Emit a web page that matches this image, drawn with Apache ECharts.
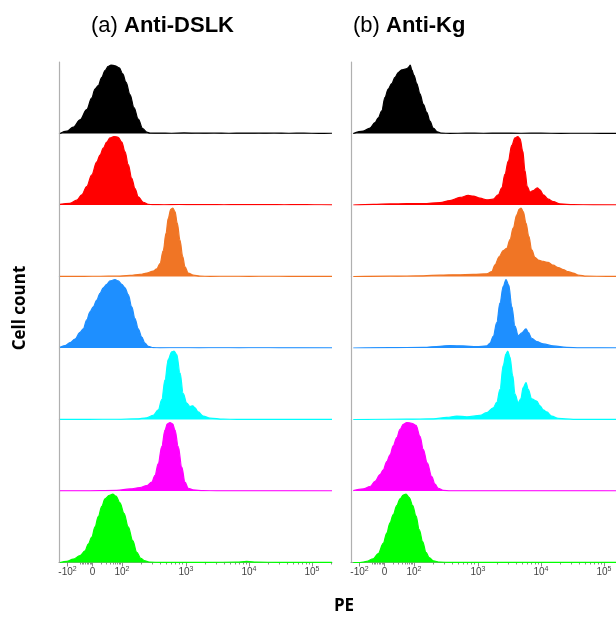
<!DOCTYPE html>
<html><head><meta charset="utf-8">
<script src="https://cdn.jsdelivr.net/npm/echarts@6/dist/echarts.min.js"></script>
<style>html,body{margin:0;padding:0;background:#fff}#c{width:616px;height:617px}</style>
</head><body><div id="c"></div>
<script>
// ---- texts ----
const panelTitles = [['(a) ', 'Anti-DSLK'], ['(b) ', 'Anti-Kg']];
const yAxisTitle = 'Cell count';
const xAxisTitle = 'PE';
// ---- colours per sample row (top to bottom) ----
const sampleColors = ['#000000', '#ff0000', '#f07525', '#1e8fff', '#00ffff', '#ff00ff', '#00ff00'];
// ---- x axis: display channel (biexponential), tick labels ----
const channelMin = 0, channelMax = 1092;
const tickChannels = [34, 134, 252, 508, 760, 1012];
const tickLabels = ['{m|-10}{s|2}', '{m|0}', '{m|10}{s|2}', '{m|10}{s|3}', '{m|10}{s|4}', '{m|10}{s|5}'];

// ---- histograms: [channel, relative count] ----
// Panel (a) Anti-DSLK
const aBlack = [[4,0],[31,3.4],[57,9.3],[84,20],[111,35],[131,52],[144,65],[157,70],[171,82],[184,92],[197,98],[208,100],[224,99],[241,96],[255,87],[268,75],[284,57],[300,38],[317,21],[335,7],[351,2],[364,0.5],[400,0.6],[450,0.4],[500,0.8],[560,0.5],[620,0.7],[680,0.4],[740,0.6],[800,0.5],[860,0.7],[920,0.4],[980,0.5],[1040,0.3],[1092,0.4]];
const aRed = [[4,1],[44,2.4],[71,7],[91,15],[111,27],[131,44],[151,63],[164,73],[177,83],[191,92],[204,98],[220,100],[237,99],[251,92],[264,78],[277,59],[291,39],[304,24],[317,12],[337,4],[357,1],[377,0.5],[420,0.4],[480,0.7],[540,0.5],[600,0.6],[660,0.4],[720,0.6],[780,0.5],[840,0.6],[900,0.4],[960,0.5],[1020,0.4],[1092,0.3]];
const aOrange = [[4,0.3],[100,0.3],[164,0.4],[231,0.5],[284,1.5],[324,3],[351,5],[377,8],[391,11],[404,19],[417,38],[428,63],[437,85],[447,98],[455,100],[464,95],[473,78],[484,53],[495,29],[504,14],[517,5],[537,2],[564,0.5],[604,0.3],[680,0.4],[760,0.3],[840,0.4],[920,0.3],[1000,0.3],[1092,0.3]];
const aBlue = [[4,1],[24,3.5],[44,8],[64,13],[84,23],[97,28],[111,41],[124,53],[137,60],[151,70],[164,80],[177,88],[191,93],[204,98],[224,100],[237,98],[251,93],[264,88],[277,78],[291,60],[304,43],[317,28],[331,16],[344,7],[357,2.5],[377,0.5],[404,0.3],[480,0.4],[560,0.3],[640,0.4],[720,0.3],[800,0.4],[880,0.3],[960,0.3],[1092,0.3]];
const aCyan = [[4,0.3],[120,0.3],[231,0.4],[311,1],[351,2.5],[377,6],[397,14],[411,29],[424,58],[437,88],[451,99],[460,100],[471,95],[484,68],[497,38],[511,24],[524,19],[535,20],[544,17],[557,11],[577,5],[604,2],[657,0.5],[711,0.3],[800,0.3],[900,0.3],[1000,0.3],[1092,0.3]];
const aMagenta = [[4,0.3],[97,0.3],[231,1],[284,3],[324,5],[351,8],[371,13],[384,23],[397,40],[411,65],[424,89],[433,98],[444,100],[455,98],[464,89],[477,65],[491,35],[504,13],[517,4],[537,1.5],[577,0.5],[631,0.3],[720,0.3],[820,0.3],[920,0.3],[1092,0.3]];
const aGreen = [[4,0],[31,1.5],[57,5],[84,10],[104,17],[117,27],[131,37],[144,52],[157,67],[171,82],[184,93],[201,98],[215,100],[228,97],[244,87],[260,72],[277,52],[295,32],[311,15],[327,6],[344,2.5],[364,0.5],[404,0.2],[500,0.3],[600,0.3],[711,0.5],[751,1.5],[791,0.5],[880,0.3],[980,0.3],[1092,0.2]];
// Panel (b) Anti-Kg
const bBlack = [[9,0],[49,3.5],[76,8],[96,16],[109,23],[123,33],[136,53],[149,65],[163,73],[176,82],[189,89],[203,93],[216,94],[225,95],[232,97.5],[237,100],[243,93],[252,85],[263,73],[276,58],[289,43],[303,31],[316,18],[329,8],[345,2.5],[363,0.5],[396,0.3],[460,0.5],[530,0.4],[600,0.6],[680,0.4],[760,0.5],[840,0.3],[920,0.4],[1000,0.3],[1092,0.3]];
const bRed = [[9,0],[89,1],[156,1.5],[223,2],[289,2],[356,3.5],[396,6.5],[436,11],[469,14],[489,13],[516,10],[543,7.5],[569,8.5],[589,15],[603,25],[616,45],[629,64],[643,87],[656,98],[667,100],[676,97],[687,79],[696,50],[705,27],[716,19],[729,21],[745,25],[756,22],[769,15],[789,8.5],[809,5],[836,1.5],[889,0.5],[969,0.3],[1092,0.3]];
const bOrange = [[9,0],[156,0.5],[289,1],[356,2],[423,2.5],[489,3],[543,4],[563,7],[576,17],[593,29],[609,38],[623,41],[636,54],[649,71],[663,90],[673,98.5],[680,100],[689,95],[700,78],[711,59],[723,39],[736,28],[749,24],[769,22],[789,20.5],[809,16.5],[829,13],[849,10],[869,7],[889,5],[909,2],[943,0.5],[1023,0.3],[1092,0.3]];
const bBlue = [[9,0],[156,0.5],[289,1],[356,2.5],[396,3.5],[449,3],[503,2],[543,3],[556,7],[569,17],[583,37],[596,66],[609,90],[620,100],[631,92],[643,61],[656,32],[669,18],[683,22],[700,28],[709,23],[723,14],[743,9.5],[769,6],[809,3],[863,1],[916,0.3],[1000,0.3],[1092,0.3]];
const bCyan = [[9,0],[223,0.5],[329,1],[383,3],[423,5],[463,4],[516,6],[543,10],[569,17],[583,25],[596,44],[609,79],[620,96],[627,100],[636,91],[647,64],[656,37],[669,25],[679,30],[689,47],[700,54],[709,44],[723,30],[743,27],[756,20],[769,14],[783,11],[803,5],[829,1.5],[889,0.3],[1000,0.3],[1092,0.3]];
const bMagenta = [[9,0.5],[49,3],[76,6.5],[96,14],[116,24],[129,31],[143,43],[156,53],[169,66],[183,78],[196,90],[209,97.5],[223,100],[243,99],[260,96],[276,80],[289,61],[305,41],[323,21],[336,10],[349,4],[369,1],[396,0.3],[500,0.3],[620,0.3],[740,0.3],[860,0.3],[980,0.3],[1092,0.3]];
const bGreen = [[9,0],[36,0],[63,1.5],[89,5.5],[109,13],[129,28],[143,43],[156,58],[169,70],[183,83],[196,93],[209,98.5],[220,100],[233,95],[247,83],[260,68],[273,48],[287,30],[300,15],[313,7],[329,2.5],[356,0.5],[396,0.2],[500,0.3],[620,0.3],[740,0.3],[860,0.3],[980,0.3],[1092,0.2]];

const panelsData = [
  [aBlack, aRed, aOrange, aBlue, aCyan, aMagenta, aGreen],
  [bBlack, bRed, bOrange, bBlue, bCyan, bMagenta, bGreen]
];

// ---- layout ----
const panelLeft = [59, 351];
const panelWidth = 273;
const rowTop0 = 62;
const rowH = 71.5;
const yMax = 104.5;

// minor tick marks in channel units
const decadeCh = 252;
const minorTicks = [];
[84, 91, 98, 105, 112, 118, 124, 129].forEach(c => minorTicks.push(c));
[2,3,4,5,6,7,8,9].forEach(k => minorTicks.push(134 + 118 * Math.log10(k)));
[252, 508, 760].forEach(base => { [2,3,4,5,6,7,8,9].forEach(k => minorTicks.push(base + decadeCh * Math.log10(k))); });
minorTicks.push(1012 + decadeCh * Math.log10(2), 1012 + decadeCh * Math.log10(3));

const grid = [], xAxis = [], yAxis = [], series = [];
panelsData.forEach((rows, p) => {
  rows.forEach((data, r) => {
    const gi = grid.length;
    const xi = xAxis.length;
    const bottom = r === rows.length - 1;
    grid.push({ left: panelLeft[p], width: panelWidth, top: rowTop0 + rowH * r, height: rowH, outerBoundsMode: 'none' });
    xAxis.push({
      type: 'value', gridIndex: gi, min: channelMin, max: channelMax,
      axisLine: { show: bottom, lineStyle: { color: '#9a9a9a', width: 1 } },
      axisTick: bottom ? { show: true, customValues: tickChannels, length: 4, lineStyle: { color: '#8a8a8a' } } : { show: false },
      axisLabel: bottom ? {
        show: true, customValues: tickChannels, margin: 3,
        fontSize: 10, color: '#444', fontFamily: 'Liberation Sans',
        formatter: v => { const i = tickChannels.indexOf(v); return i >= 0 ? tickLabels[i] : ''; },
        rich: {
          m: { fontSize: 10, lineHeight: 14, color: '#444', fontFamily: 'Liberation Sans' },
          s: { fontSize: 7, lineHeight: 9, color: '#444', verticalAlign: 'top', fontFamily: 'Liberation Sans' }
        }
      } : { show: false },
      splitLine: { show: false }
    });
    yAxis.push({
      type: 'value', gridIndex: gi, min: 0, max: yMax,
      axisLine: { show: true, lineStyle: { color: '#b0b0b0', width: 1.2 } },
      axisTick: { show: false }, axisLabel: { show: false }, splitLine: { show: false }
    });
    series.push({
      type: 'line', xAxisIndex: xi, yAxisIndex: gi, data: data,
      showSymbol: false, smooth: 0.35, smoothMonotone: 'x', silent: true,
      lineStyle: { color: sampleColors[r], width: 1.2 },
      itemStyle: { color: sampleColors[r] },
      areaStyle: { color: sampleColors[r], opacity: 1 }
    });
    if (bottom) {
      // second axis on the bottom row carrying the short minor ticks
      xAxis.push({
        type: 'value', gridIndex: gi, min: channelMin, max: channelMax, position: 'bottom',
        axisLine: { show: false },
        axisTick: { show: true, customValues: minorTicks, length: 2, lineStyle: { color: '#8a8a8a' } },
        axisLabel: { show: false }, splitLine: { show: false }
      });
    }
  });
});

const chart = echarts.init(document.getElementById('c'), null, { renderer: 'canvas' });
chart.setOption({
  animation: false,
  backgroundColor: '#ffffff',
  grid, xAxis, yAxis, series,
  title: panelTitles.map((t, i) => ({
    text: '{n|' + t[0] + '}{b|' + t[1] + '}',
    left: [86, 348][i], top: 10,
    textStyle: { rich: {
      n: { fontSize: 22, fontWeight: 'normal', color: '#000', fontFamily: 'Liberation Sans' },
      b: { fontSize: 22, fontWeight: 'bold', color: '#000', fontFamily: 'Liberation Sans' }
    } }
  })),
  graphic: [
    { type: 'text', x: 20, y: 308, rotation: Math.PI / 2,
      style: { text: yAxisTitle, fontSize: 17, fontWeight: 'bold', fontFamily: 'Open Sans', fill: '#000', align: 'center', verticalAlign: 'middle' } },
    { type: 'text', x: 344, y: 606,
      style: { text: xAxisTitle, fontSize: 17, fontWeight: 'bold', fontFamily: 'Open Sans', fill: '#000', align: 'center', verticalAlign: 'middle' } }
  ]
});
</script>
</body></html>
